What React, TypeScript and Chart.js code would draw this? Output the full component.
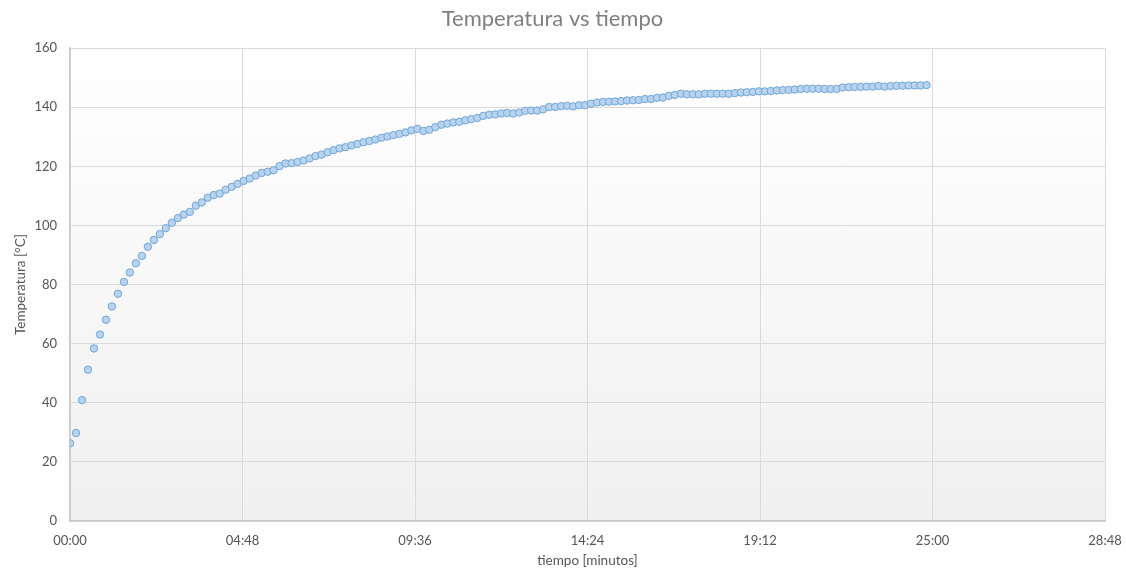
import React, { useEffect, useRef } from "react";
import { Chart, registerables } from "chart.js";

Chart.register(...registerables);

const chartTitle = "Temperatura vs tiempo";
const xAxisTitle = "tiempo [minutos]";
const yAxisTitle = "Temperatura [°C]";

const xTickLabels = ["00:00", "04:48", "09:36", "14:24", "19:12", "25:00", "28:48"];
const xStep = 288;
const xMax = 1728;
const yMin = 0;
const yMax = 160;
const yStep = 20;

const timeSeconds = [
  0, 10, 20, 30, 40, 50, 60, 70, 80, 90,
  100, 110, 120, 130, 140, 150, 160, 170, 180, 190,
  200, 210, 220, 230, 240, 250, 260, 270, 280, 290,
  300, 310, 320, 330, 340, 350, 360, 370, 380, 390,
  400, 410, 420, 430, 440, 450, 460, 470, 480, 490,
  500, 510, 520, 530, 540, 550, 560, 570, 580, 590,
  600, 610, 620, 630, 640, 650, 660, 670, 680, 690,
  700, 710, 720, 730, 740, 750, 760, 770, 780, 790,
  800, 810, 820, 830, 840, 850, 860, 870, 880, 890,
  900, 910, 920, 930, 940, 950, 960, 970, 980, 990,
  1000, 1010, 1020, 1030, 1040, 1050, 1060, 1070, 1080, 1090,
  1100, 1110, 1120, 1130, 1140, 1150, 1160, 1170, 1180, 1190,
  1200, 1210, 1220, 1230, 1240, 1250, 1260, 1270, 1280, 1290,
  1300, 1310, 1320, 1330, 1340, 1350, 1360, 1370, 1380, 1390,
  1400, 1410, 1420, 1430,
];

const temperature = [
  26.3, 29.8, 40.9, 51.2, 58.4, 63.1, 68.1, 72.6, 76.9, 80.9,
  84.1, 87.2, 89.7, 92.8, 95.1, 97.1, 99.1, 100.9, 102.5, 103.7,
  104.6, 106.7, 107.8, 109.4, 110.3, 110.8, 112.1, 113.1, 114.1, 115.1,
  115.9, 116.9, 117.8, 118.2, 118.7, 120.1, 121.0, 121.1, 121.5, 122.0,
  122.7, 123.5, 124.0, 124.8, 125.5, 126.1, 126.5, 127.1, 127.6, 128.2,
  128.6, 129.1, 129.7, 130.1, 130.6, 131.0, 131.5, 132.2, 132.7, 132.0,
  132.4, 133.3, 134.1, 134.5, 134.9, 135.1, 135.6, 136.0, 136.4, 137.1,
  137.5, 137.6, 137.9, 138.1, 137.9, 138.2, 138.8, 138.9, 138.9, 139.3,
  140.1, 140.1, 140.4, 140.5, 140.3, 140.7, 140.7, 141.2, 141.6, 141.8,
  141.9, 142.0, 142.1, 142.3, 142.4, 142.5, 142.8, 142.8, 143.2, 143.3,
  143.9, 144.2, 144.6, 144.4, 144.4, 144.4, 144.6, 144.6, 144.6, 144.6,
  144.6, 144.8, 145.0, 145.1, 145.2, 145.4, 145.4, 145.5, 145.7, 145.8,
  145.9, 146.0, 146.2, 146.3, 146.3, 146.3, 146.2, 146.2, 146.2, 146.7,
  146.8, 146.9, 146.9, 147.0, 147.0, 147.2, 147.0, 147.2, 147.3, 147.3,
  147.4, 147.4, 147.4, 147.5,
];

const FONT = "Lato, 'DejaVu Sans', sans-serif";

const plotBackground = {
  id: "plotBackground",
  beforeDraw(chart: any) {
    const { ctx, chartArea } = chart;
    if (!chartArea) return;
    const g = ctx.createLinearGradient(0, chartArea.top, 0, chartArea.bottom);
    g.addColorStop(0, "#ffffff");
    g.addColorStop(1, "#f0f0f0");
    ctx.save();
    ctx.fillStyle = g;
    ctx.fillRect(chartArea.left, chartArea.top, chartArea.right - chartArea.left, chartArea.bottom - chartArea.top);
    ctx.restore();
  },
};

export default function App() {
  const canvasRef = useRef<HTMLCanvasElement | null>(null);

  useEffect(() => {
    if (!canvasRef.current) return;
    const points = timeSeconds.map((t, i) => ({ x: t, y: temperature[i] }));
    const chart = new Chart(canvasRef.current, {
      type: "scatter",
      data: {
        datasets: [
          {
            label: "Temperatura",
            data: points,
            pointRadius: 3.7,
            pointBorderWidth: 1,
            pointBackgroundColor: "#b7d3ef",
            pointBorderColor: "#72a6d8",
            showLine: false,
          },
        ],
      },
      options: {
        animation: false,
        responsive: false,
        maintainAspectRatio: false,
        layout: { padding: { left: 0, right: 21, top: 0, bottom: 0 } },
        plugins: {
          legend: { display: false },
          tooltip: { enabled: false },
          title: {
            display: true,
            text: chartTitle,
            color: "#7f7f7f",
            font: { family: FONT, size: 22, weight: "normal", lineHeight: 1.1 },
            padding: { top: 7, bottom: 17 },
          },
        },
        scales: {
          x: {
            type: "linear",
            min: 0,
            max: xMax,
            afterFit: (scale: any) => {
              scale.height = 50;
              scale.paddingRight = 0;
              scale.paddingLeft = 0;
            },
            ticks: {
              stepSize: xStep,
              autoSkip: false,
              maxRotation: 0,
              padding: 12,
              color: "#555555",
              font: { family: FONT, size: 13 },
              callback: (v: any) => xTickLabels[Math.round(Number(v) / xStep)] ?? "",
            },
            grid: { color: "#dadada", drawTicks: false, lineWidth: 1 },
            border: { color: "#c8c8c8", width: 1.5 },
            title: {
              display: true,
              text: xAxisTitle,
              color: "#555555",
              font: { family: FONT, size: 13.5 },
              padding: { top: 0, bottom: 2 },
            },
          },
          y: {
            type: "linear",
            min: yMin,
            max: yMax,
            afterFit: (scale: any) => {
              scale.width = 70;
            },
            ticks: {
              stepSize: yStep,
              padding: 13,
              color: "#555555",
              font: { family: FONT, size: 13 },
            },
            grid: { color: "#dadada", drawTicks: false, lineWidth: 1 },
            border: { color: "#c8c8c8", width: 1.5 },
            title: {
              display: true,
              text: yAxisTitle,
              color: "#555555",
              font: { family: FONT, size: 13.5 },
              padding: { top: 13, bottom: 0 },
            },
          },
        },
      },
      plugins: [plotBackground],
    } as any);
    return () => chart.destroy();
  }, []);

  return (
    <div style={{ position: "absolute", left: 0, top: 0, width: 1126, height: 571, background: "#ffffff" }}>
      <canvas ref={canvasRef} width={1126} height={571} style={{ display: "block", width: 1126, height: 571 }} />
    </div>
  );
}
